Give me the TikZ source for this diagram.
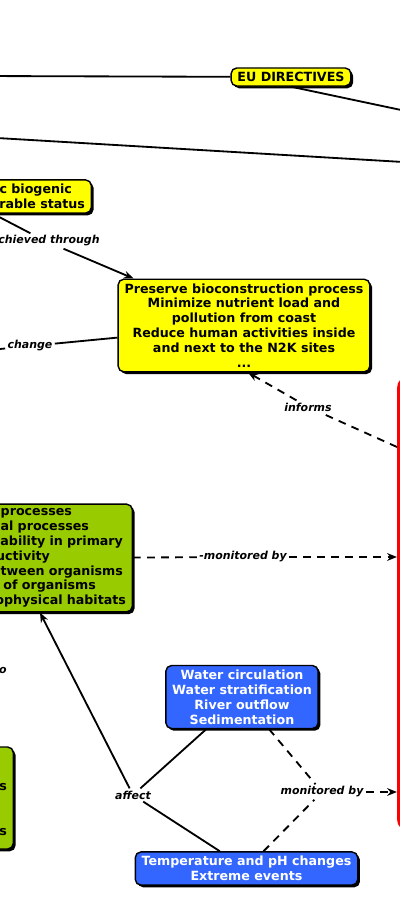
\documentclass[tikz,border=0pt]{standalone}
\usepackage{fontspec}
\setmainfont{DejaVu Sans}
\usetikzlibrary{arrows.meta,shadows,calc}
\definecolor{cmYel}{HTML}{FFFF00}
\definecolor{cmGrn}{HTML}{99CC00}
\definecolor{cmBlu}{HTML}{3366FF}
\definecolor{cmRed}{HTML}{FF0000}
\newdimen\pxu \pxu=0.025cm
\tikzset{
  cnode/.style={draw=black,line width=1pt,rounded corners=4pt,align=center,inner xsep=4.5pt,inner ysep=3pt,
    font=\fontsize{9}{10.6}\selectfont\bfseries,
    general shadow={fill=black,shadow xshift=1.6pt,shadow yshift=-1.6pt}},
  ybox/.style={cnode,fill=cmYel},
  gbox/.style={cnode,fill=cmGrn},
  bluebox/.style={cnode,fill=cmBlu,text=white},
  lnk/.style={font=\fontsize{7.8}{9.5}\selectfont\bfseries\itshape,inner sep=1.5pt},
  cline/.style={line width=1.3pt},
  dline/.style={cline,dash pattern=on 5.5pt off 4.5pt},
  arr/.style={-{Stealth[length=7pt,width=5.5pt]}}
}
\begin{document}
\begin{tikzpicture}[x=0.025cm,y=-0.025cm]
\useasboundingbox (0,0) rectangle (400,900);
\clip (0,0) rectangle (400,900);
% concepts
\node[ybox] (eu) at (291,77) {EU DIRECTIVES};
\node[ybox,anchor=east,text width=184\pxu,align=right] (bio) at (92,196.5) {ic biogenic\kern13\pxu\\urable status};
\node[ybox] (pres) at (244,325.5) {Preserve bioconstruction process\\Minimize nutrient load and\\pollution from coast\\Reduce human activities inside\\and next to the N2K sites\\...};
\node[gbox,anchor=east,text width=172\pxu,align=right] (gr) at (133,558) {processes\kern54\pxu\\al processes\kern37\pxu\\ability in primary\kern3\pxu\\uctivity\kern76\pxu\\tween organisms\kern3\pxu\\of organisms\kern30\pxu\\ophysical habitats};
\node[gbox,anchor=east,text width=100\pxu,align=right,minimum height=102\pxu] (gr2) at (14,798) {\mbox{}\\\mbox{}\\s\\\mbox{}\\\mbox{}\\s};
\node[bluebox] (wat) at (242,697) {Water circulation\\Water stratification\\River outflow\\Sedimentation};
\node[bluebox] (tmp) at (246.5,868.5) {Temperature and pH changes\\Extreme events};
\node[draw=cmRed,line width=3pt,rounded corners=8pt,minimum width=300\pxu,minimum height=453\pxu,anchor=north west] (mon) at (397,375) {};
% linking phrases
\node[lnk,anchor=east] (lach) at (102,241) {achieved through};
\node[lnk] (lchg) at (30,346) {change};
\node[lnk] (linf) at (308,407) {informs};
\node[lnk] (lmo1) at (243,557) {-monitored by};
\node[lnk] (laff) at (133,795) {affect};
\node[lnk] (lmo2) at (322,792) {monitored by};
\node[lnk,anchor=east] (lto) at (9,670) {o};
% free ends
\coordinate (w1) at (-20,76);
\coordinate (e1) at (420,114);
\coordinate (w2) at (-20,137);
\coordinate (e2) at (420,163);
\coordinate (w3) at (-30,352);
% links
\draw[cline] (w1) -- (eu);
\draw[cline] (eu.south) -- (e1);
\draw[cline] (w2) -- (e2);
\draw[cline] (bio.south) -- (lach);
\draw[cline,arr] (lach) -- (pres);
\draw[cline] (w3) -- (lchg);
\draw[cline] (lchg) -- (pres);
\draw[dline] ($(mon.north west)+(0,72)$) -- (linf);
\draw[dline,arr] (linf) -- ($(pres.south)+(4,0)$);
\draw[dline] (gr) -- (lmo1);
\draw[dline,arr] (lmo1) -- ($(mon.north west)+(0,182)$);
\draw[cline] (wat) -- (laff);
\draw[cline] (tmp) -- (laff);
\draw[cline,arr] (laff) -- (gr.south);
\draw[dline] (wat) -- (lmo2);
\draw[dline] (tmp) -- (lmo2);
\draw[dline,arr] (lmo2) -- ($(mon.north west)+(0,417)$);
\end{tikzpicture}
\end{document}
